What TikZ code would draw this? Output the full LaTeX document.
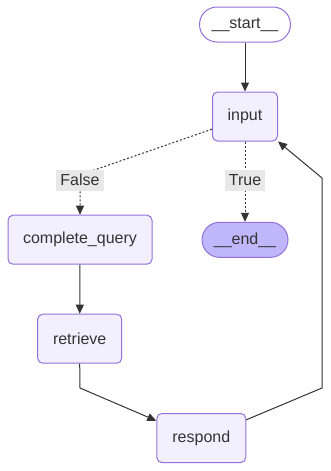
\documentclass[tikz,border=0pt]{standalone}
\usepackage{fontspec}
\setmainfont{Liberation Sans}
\usetikzlibrary{arrows.meta,positioning,calc}
\definecolor{nodefill}{HTML}{F2F0FF}
\definecolor{nodeline}{HTML}{9370DB}
\definecolor{endfill}{HTML}{BFB6FC}
\definecolor{edgecol}{HTML}{333333}
\definecolor{lblfill}{HTML}{E8E8E8}

\begin{document}
\begin{tikzpicture}[x=1pt, y=-1pt, >={Triangle[length=9pt,width=8pt]},
    font=\fontsize{16}{19}\selectfont, text=edgecol,
    box/.style={draw=nodeline, line width=1pt, fill=#1, rounded corners=5pt,
                minimum height=49pt, inner sep=0pt, align=center},
    term/.style={box=#1, rounded corners=17.5pt, minimum height=35pt},
    flow/.style={draw=edgecol, line width=1pt},
    cond/.style={flow, dash pattern=on 2pt off 2pt},
    lbl/.style={fill=lblfill, inner xsep=4pt, inner ysep=0pt, minimum height=21pt}]
  \useasboundingbox (0,0) rectangle (331,471);
  %% Nodes
  \node[term=white,    minimum width=91pt]  (start)    at (245,24.5)  {\_\_start\_\_};
  \node[box=nodefill,  minimum width=65pt]  (input)    at (245,116.5) {input};
  \node[box=nodefill,  minimum width=144pt] (cq)       at (80,239.7)  {complete\_query};
  \node[term=endfill,  minimum width=86pt]  (end)      at (245,239.8) {\_\_end\_\_};
  \node[box=nodefill,  minimum width=84pt]  (retrieve) at (79.7,338.7) {retrieve};
  \node[box=nodefill,  minimum width=89pt]  (respond)  at (201.3,438) {respond};
  %% Bends
  \coordinate (fbend) at (80,175);
  \coordinate (rbend) at (80,388);
  \coordinate (loopa) at (322,388);
  \coordinate (loopb) at (322,178);
  %% Edges
  \draw[flow,->] (start) -- (input);
  \draw[cond,->] (input.201) -- (fbend) -- (cq);
  \draw[cond,->] (input) -- (end);
  \draw[flow,->] (cq) -- (retrieve);
  \draw[flow,->] (retrieve.south) -- (rbend) -- (respond.159);
  \draw[flow,->] (respond.22) -- (loopa) -- (loopb) -- (input.south east);
  %% Labels
  \node[lbl] (lfalse) at (80,180)  {False};
  \node[lbl] (ltrue)  at (245,180) {True};
\end{tikzpicture}
\end{document}
